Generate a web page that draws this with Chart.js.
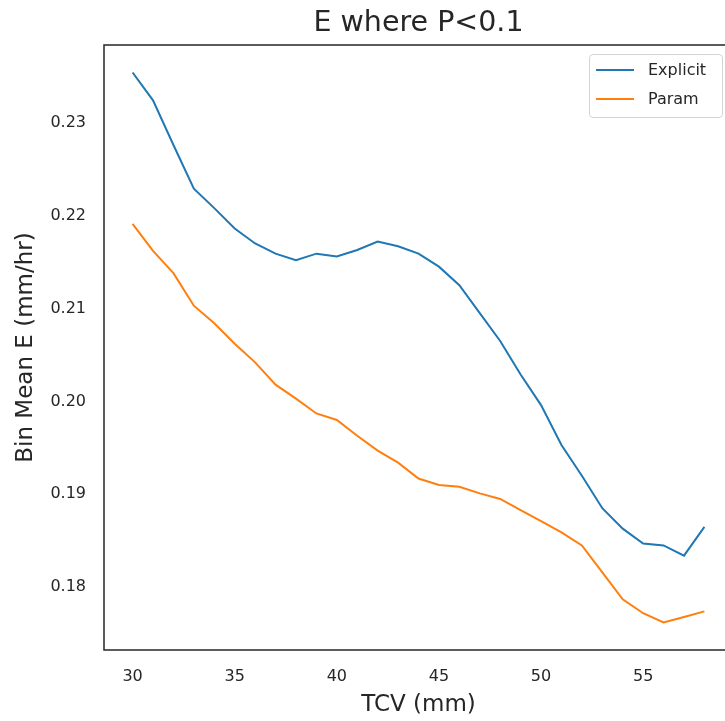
<!DOCTYPE html>
<html>
<head>
<meta charset="utf-8">
<script src="https://cdn.jsdelivr.net/npm/chart.js@4/dist/chart.umd.min.js"></script>
<style>
  html, body { margin: 0; padding: 0; background: #fff; width: 725px; height: 721px; overflow: hidden; }
  #wrap { position: relative; width: 837px; height: 721px; }
  #legend { position: absolute; left: 589px; top: 54px; width: 134px; height: 64px; box-sizing: border-box;
            border: 1px solid #d4d4d4; border-radius: 4px; background: rgba(255,255,255,0.85);
            font-family: "DejaVu Sans", sans-serif; font-size: 16px; color: #262626; }
  .item { position: absolute; left: 0; height: 20px; width: 130px; }
  .swatch { position: absolute; left: 6px; top: 9px; width: 38px; height: 2px; }
  .lbl { position: absolute; left: 58px; top: 0; line-height: 20px; white-space: nowrap; }
</style>
</head>
<body>
<div id="wrap">
  <canvas id="c" width="837" height="721"></canvas>
  <div id="legend"></div>
</div>
<script>
const tcv = [30,31,32,33,34,35,36,37,38,39,40,41,42,43,44,45,46,47,48,49,50,51,52,53,54,55,56,57,58];
const explicitE = [0.2354,0.2324,0.2276,0.2229,0.2208,0.2186,0.2170,0.2159,0.2152,0.2159,0.2156,0.2163,0.2172,0.2167,0.2159,0.2145,0.2125,0.2095,0.2065,0.2029,0.1996,0.1953,0.1920,0.1885,0.1863,0.1847,0.1845,0.1834,0.1865];
const paramE = [0.2191,0.2162,0.2138,0.2103,0.2084,0.2062,0.2042,0.2018,0.2003,0.1987,0.1980,0.1963,0.1947,0.1934,0.1917,0.1910,0.1908,0.1901,0.1895,0.1883,0.1871,0.1859,0.1845,0.1816,0.1787,0.1772,0.1762,0.1768,0.1774];
const seriesNames = ["Explicit", "Param"];
const xTickValues = [30,35,40,45,50,55];
const yTickValues = [0.18,0.19,0.20,0.21,0.22,0.23];

const colors = ["#1f77b4", "#ff7f0e"];
const textColor = "#262626";
const FONT = "'DejaVu Sans', sans-serif";

const allY = explicitE.concat(paramE);
const yLo = Math.min(...allY), yHi = Math.max(...allY);
const xLo = Math.min(...tcv), xHi = Math.max(...tcv);
const yPad = (yHi - yLo) * 0.05, xPad = (xHi - xLo) * 0.05;

const toPts = arr => tcv.map((x, i) => ({x: x, y: arr[i]}));

const framePlugin = {
  id: 'frame',
  afterLayout(chart) {
    // center the title over the plot area, like matplotlib's axes title
    const t = chart.titleBlock, a = chart.chartArea;
    if (t) { t.left = a.left; t.right = a.right; t.width = a.right - a.left; }
  },
  afterDraw(chart) {
    const a = chart.chartArea, ctx = chart.ctx;
    ctx.save();
    ctx.strokeStyle = textColor;
    ctx.lineWidth = 1.5;
    ctx.strokeRect(a.left, a.top, a.right - a.left, a.bottom - a.top);
    ctx.restore();
  }
};

const chart = new Chart(document.getElementById('c'), {
  type: 'line',
  data: {
    datasets: [
      { label: seriesNames[0], data: toPts(explicitE), borderColor: colors[0], backgroundColor: colors[0], borderWidth: 2, pointRadius: 0, tension: 0, fill: false },
      { label: seriesNames[1], data: toPts(paramE), borderColor: colors[1], backgroundColor: colors[1], borderWidth: 2, pointRadius: 0, tension: 0, fill: false }
    ]
  },
  options: {
    responsive: false,
    animation: false,
    devicePixelRatio: 1,
    layout: { padding: { left: 0, right: 104, top: 0, bottom: 0 } },
    plugins: {
      legend: { display: false },
      tooltip: { enabled: false },
      title: {
        display: true,
        text: 'E where P<0.1',
        color: textColor,
        font: { family: FONT, size: 28.5, weight: 'normal' },
        padding: { top: 6, bottom: 4.8 }
      }
    },
    scales: {
      x: {
        type: 'linear',
        min: xLo - xPad,
        max: xHi + xPad,
        grid: { display: false, drawTicks: false },
        border: { display: false },
        afterBuildTicks: s => { s.ticks = xTickValues.map(v => ({ value: v })); },
        afterFit: s => { s.height = 71; },
        ticks: { color: textColor, font: { family: FONT, size: 16 }, padding: 17, maxRotation: 0, callback: v => String(v) },
        title: { display: true, text: 'TCV (mm)', color: textColor, font: { family: FONT, size: 23 }, padding: { top: 2, bottom: 2 } }
      },
      y: {
        type: 'linear',
        min: yLo - yPad,
        max: yHi + yPad,
        grid: { display: false, drawTicks: false },
        border: { display: false },
        afterBuildTicks: s => { s.ticks = yTickValues.map(v => ({ value: v })); },
        afterFit: s => { s.width = 104; },
        ticks: { color: textColor, font: { family: FONT, size: 16 }, padding: 18, callback: v => v.toFixed(2) },
        title: { display: true, text: 'Bin Mean E (mm/hr)', color: textColor, font: { family: FONT, size: 23 }, padding: { top: 12, bottom: 0 } }
      }
    }
  },
  plugins: [framePlugin]
});

// HTML legend built from the datasets
const leg = document.getElementById('legend');
chart.data.datasets.forEach((ds, i) => {
  const item = document.createElement('div');
  item.className = 'item';
  item.style.top = (5 + i * 29) + 'px';
  const sw = document.createElement('div');
  sw.className = 'swatch';
  sw.style.background = ds.borderColor;
  const lb = document.createElement('div');
  lb.className = 'lbl';
  lb.textContent = ds.label;
  item.appendChild(sw); item.appendChild(lb);
  leg.appendChild(item);
});
</script>
</body>
</html>
